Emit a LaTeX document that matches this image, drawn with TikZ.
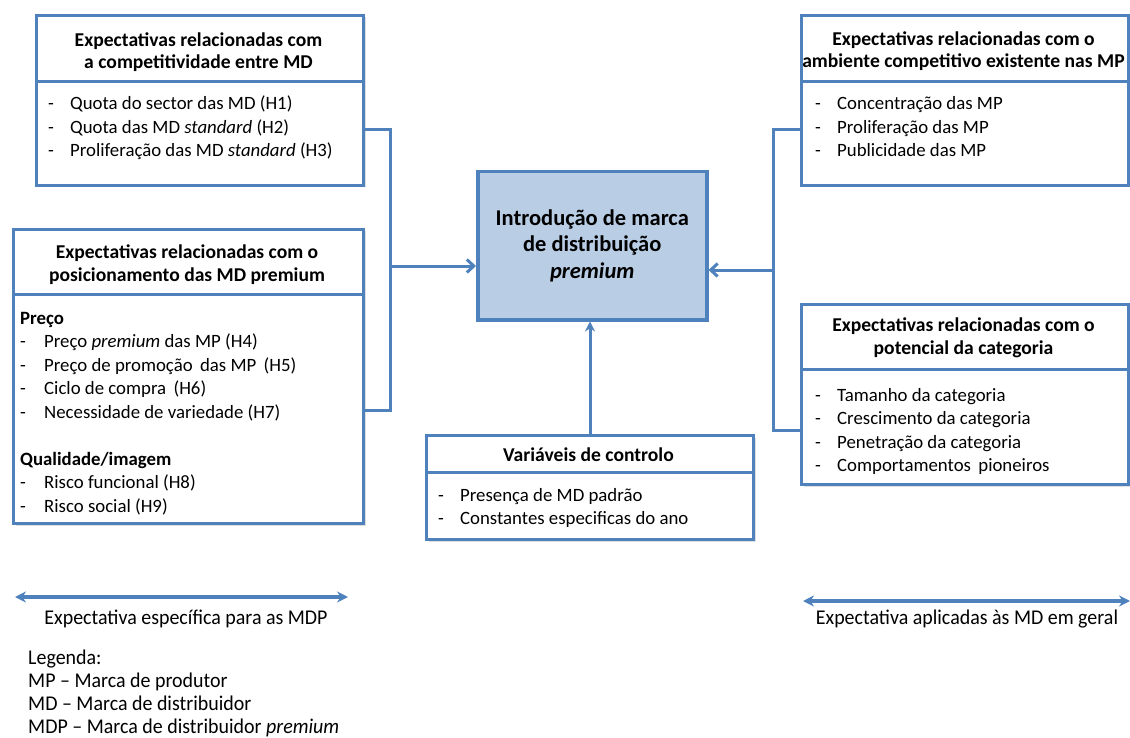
\documentclass[tikz,border=0pt]{standalone}
\usepackage{fontspec}
\setmainfont{Carlito}
\newfontfamily\narrowfont[FakeStretch=0.95,Ligatures=TeX]{Carlito}
\usetikzlibrary{arrows.meta,shadows}
\definecolor{bord}{HTML}{4F81BD}
\definecolor{cfill}{HTML}{B9CDE5}
\newcommand\bodysize{\fontsize{18.8}{23.5}\selectfont}
\newcommand\headsize{\fontsize{19.6}{22.5}\selectfont\bfseries}
\newcommand\lstA[1]{\begin{tabular}[t]{@{}p{22pt}@{}l@{}}#1\end{tabular}}
\begin{document}
\begin{tikzpicture}[x=1pt,y=-1pt,
  box/.style={draw=bord, line width=3pt, fill=white, inner sep=0pt,
    drop shadow={opacity=0.25, shadow xshift=2pt, shadow yshift=-2pt}},
  cbox/.style={draw=bord, line width=3.5pt, fill=cfill, inner sep=0pt,
    drop shadow={opacity=0.25, shadow xshift=2pt, shadow yshift=-2pt}},
  div/.style={draw=bord, line width=3pt},
  head/.style={align=center, inner sep=0pt, font=\headsize},
  body/.style={inner sep=0pt, font=\bodysize, anchor=base west},
  conn/.style={draw=bord, line width=3pt},
  barb/.style={-{Straight Barb[length=7pt,width=13pt,line width=3pt]}},
  leg/.style={inner sep=0pt, font=\narrowfont\fontsize{21}{23}\selectfont, anchor=base west},
  dbl/.style={draw=bord, line width=3.5pt, {Stealth[length=11pt,width=11pt]}-{Stealth[length=11pt,width=11pt]}}
]
\useasboundingbox (0,0) rectangle (1130,738);

% ---- box 1
\node[box, anchor=north west, minimum width=327pt, minimum height=170pt] (b1) at (35,14) {};
\draw[div] (b1.west |- 0,82) -- (b1.east |- 0,82);
\node[head] (b1h) at (198.5,52) {Expectativas relacionadas com\\a competitividade entre MD};
\node[body] (b1b) at (48,110) {\lstA{- & Quota do sector das MD (H1)\\
- & Quota das MD \textit{standard} (H2)\\
- & Proliferação das MD \textit{standard} (H3)}};

% ---- box 2
\node[box, anchor=north west, minimum width=327pt, minimum height=170pt] (b2) at (800,14) {};
\draw[div] (b2.west |- 0,82) -- (b2.east |- 0,82);
\node[head] (b2h) at (963.5,51) {Expectativas relacionadas com o\\ambiente competitivo existente nas MP};
\node[body] (b2b) at (815,110) {\lstA{- & Concentração das MP\\
- & Proliferação das MP\\
- & Publicidade das MP}};

% ---- box 3
\node[box, anchor=north west, minimum width=350pt, minimum height=294pt] (b3) at (12,228) {};
\draw[div] (b3.west |- 0,294) -- (b3.east |- 0,294);
\node[head] (b3h) at (187,264.5) {Expectativas relacionadas com o\\posicionamento das MD premium};
\node[body] (b3b) at (20,324) {\begin{tabular}[t]{@{}p{24pt}@{}l@{}}
\multicolumn{2}{@{}l@{}}{\textbf{Preço}}\\
- & Preço \textit{premium} das MP (H4)\\
- & Preço de promoção\, das MP\, (H5)\\
- & Ciclo de compra\, (H6)\\
- & Necessidade de variedade (H7)\\
 & \\
\multicolumn{2}{@{}l@{}}{\textbf{Qualidade/imagem}}\\
- & Risco funcional (H8)\\
- & Risco social (H9)
\end{tabular}};

% ---- box 4
\node[box, anchor=north west, minimum width=327pt, minimum height=180pt] (b4) at (800,303) {};
\draw[div] (b4.west |- 0,369) -- (b4.east |- 0,369);
\node[head] (b4h) at (963.5,338) {Expectativas relacionadas com o\\potencial da categoria};
\node[body] (b4b) at (815,401) {\lstA{- & Tamanho da categoria\\
- & Crescimento da categoria\\
- & Penetração da categoria\\
- & Comportamentos\, pioneiros}};

% ---- control box
\node[box, anchor=north west, minimum width=327pt, minimum height=104pt] (b5) at (425,434) {};
\draw[div] (b5.west |- 0,472) -- (b5.east |- 0,472);
\node[head] (b5h) at (588.5,455) {Variáveis de controlo};
\node[body] (b5b) at (438,501) {\lstA{- & Presença de MD padrão\\
- & Constantes especificas do ano}};

% ---- center box
\node[cbox, anchor=north west, minimum width=229pt, minimum height=148pt,
  align=center, font=\fontsize{22.5}{26.5}\selectfont\bfseries] (c) at (476,170)
  {Introdução de marca\\de distribuição\\\textit{premium}};

% ---- connectors
\coordinate (L) at (390,266);
\coordinate (R) at (773,270);
\draw[conn] (b1.east |- 0,130) -- (390,130) -- (390,410) -- (b3.east |- 0,410);
\draw[conn, barb] (L) -- (c.west |- L);
\draw[conn] (b2.west |- 0,130) -- (773,130) -- (773,430) -- (b4.west |- 0,430);
\draw[conn, barb] (R) -- (c.east |- R);
\draw[conn, -{Stealth[length=10pt,width=10pt]}] (b5.north -| 590,0) -- (c.south -| 590,0);

% ---- legend arrows
\coordinate (a1) at (15,597);
\coordinate (a2) at (348,597);
\coordinate (a3) at (803,601);
\coordinate (a4) at (1130,601);
\draw[dbl] (a1) -- (a2);
\draw[dbl] (a3) -- (a4);
\node[leg, anchor=base] (t1) at (186,624) {Expectativa específica para as MDP};
\node[leg, anchor=base] (t2) at (967,624) {Expectativa aplicadas às MD em geral};

\node[leg] (lg) at (28,664) {\begin{tabular}[t]{@{}l@{}}Legenda:\\
MP – Marca de produtor\\
MD – Marca de distribuidor\\
MDP – Marca de distribuidor \textit{premium}\end{tabular}};
\end{tikzpicture}
\end{document}
